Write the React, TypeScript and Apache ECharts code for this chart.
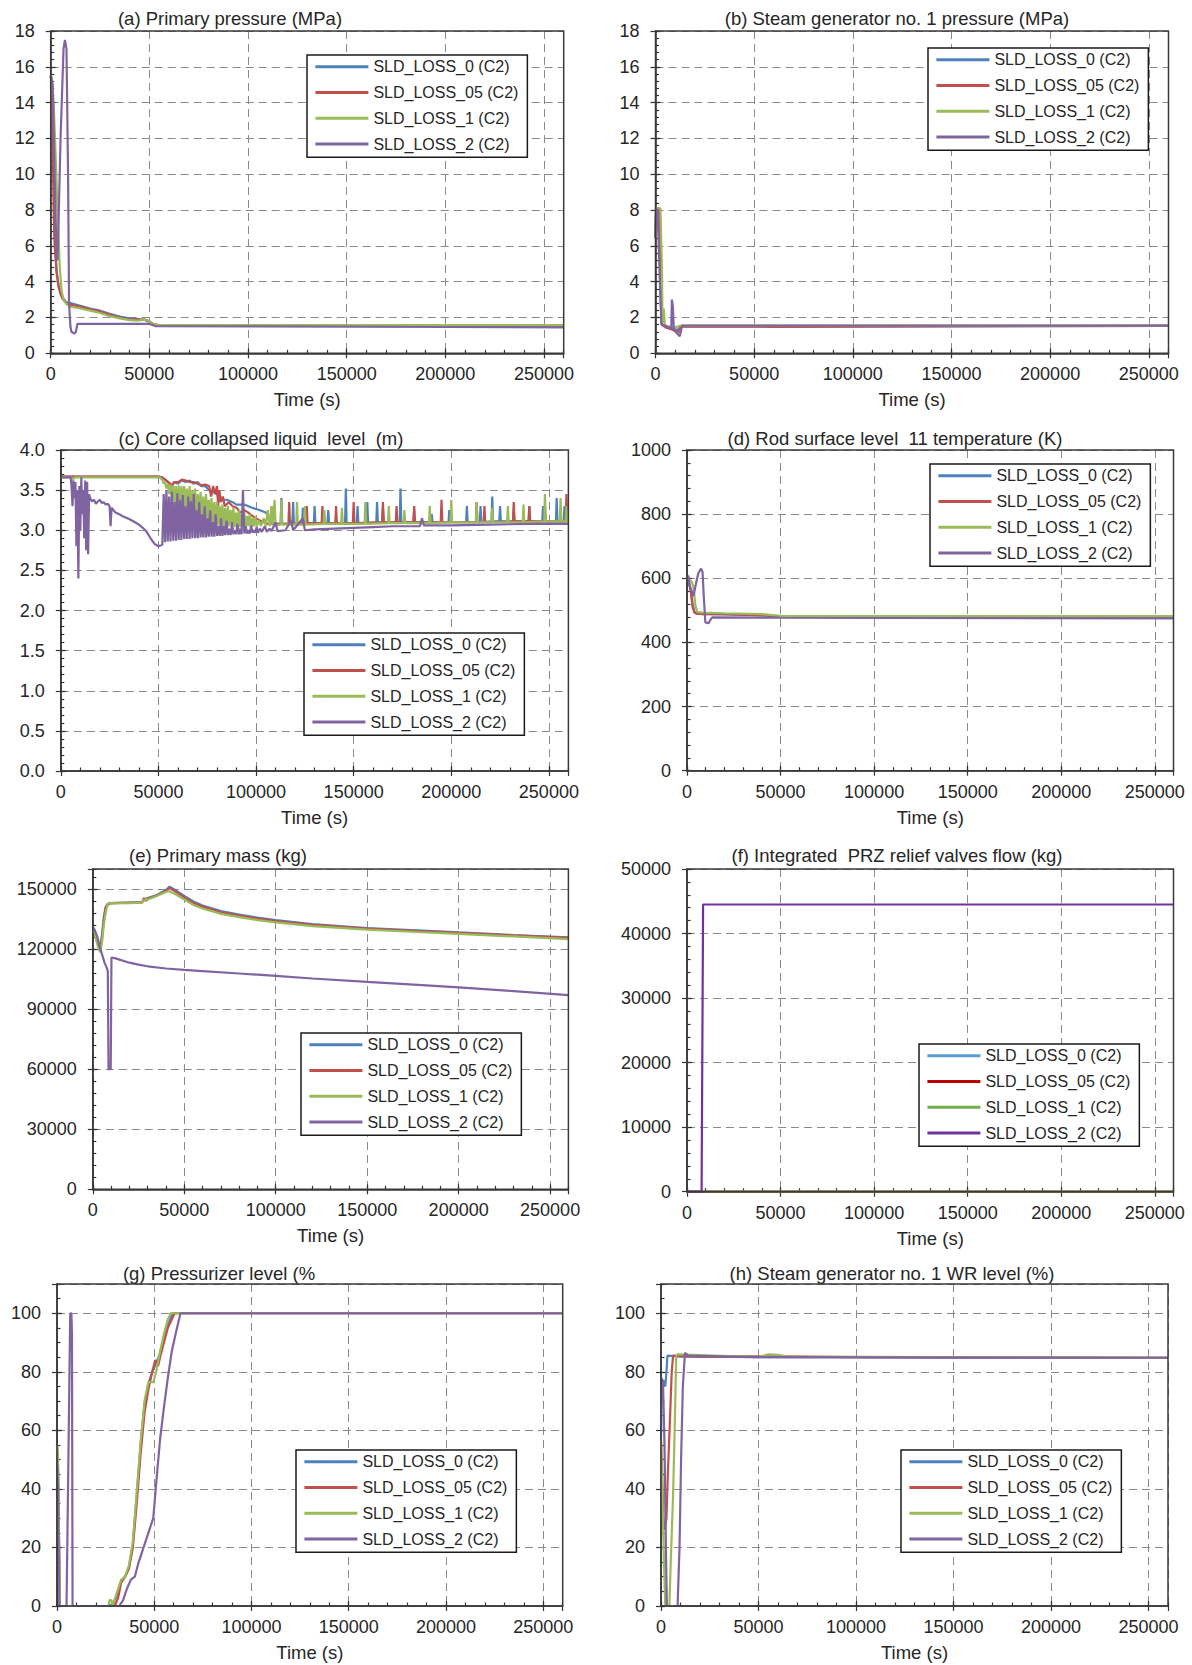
import React, { useEffect, useRef } from "react";
import * as echarts from "echarts";

type P = [number, number][];

const NAMES = ["SLD_LOSS_0 (C2)", "SLD_LOSS_05 (C2)", "SLD_LOSS_1 (C2)", "SLD_LOSS_2 (C2)"];
const COLORS = ["#4F81BD", "#C0504D", "#9BBB59", "#8064A2"];
const COLORS_F = ["#5B9BD5", "#C00000", "#70AD47", "#7030A0"];
const TIME_MAX = 260000;
const TIME_STEP = 50000;
const TIME_MINOR = 10000;

// (a) Primary pressure (MPa)
const A_0: P = [[0,15.5],[500,15.3],[1000,13.5],[1500,10],[2000,7],[2500,5.5],[3000,4.6],[4000,3.8],[5000,3.4],[6000,3.1],[8000,2.85],[10000,2.8],[15000,2.65],[20000,2.5],[25000,2.38],[30000,2.2],[35000,2.05],[40000,1.95],[45000,1.9],[48000,1.85],[50000,1.75],[52000,1.62],[55000,1.57],[80000,1.55],[150000,1.54],[260000,1.55]];
const A_05: P = [[0,15.5],[500,15],[1000,12],[1500,8],[2000,6],[3000,4.5],[4000,3.7],[5000,3.3],[6000,3.05],[8000,2.8],[10000,2.72],[15000,2.6],[20000,2.45],[25000,2.33],[30000,2.15],[35000,2.0],[40000,1.9],[45000,1.88],[48000,1.88],[50000,1.78],[52000,1.62],[55000,1.56],[80000,1.55],[260000,1.55]];
const A_1: P = [[0,15.5],[500,15.4],[1500,14],[2500,11],[3500,8],[4500,5],[5500,3.5],[6500,3.0],[8000,2.75],[10000,2.6],[15000,2.5],[20000,2.38],[25000,2.25],[30000,2.07],[35000,1.95],[40000,1.85],[44000,1.82],[47000,1.88],[49000,1.85],[51000,1.68],[53000,1.58],[80000,1.57],[260000,1.58]];
const A_2: P = [[0,15.5],[1000,15],[2000,10],[3000,5.3],[3500,5.2],[5000,12],[6500,17],[7200,17.5],[8000,17],[8800,10],[9300,2.8],[10000,1.5],[10500,1.2],[12000,1.1],[12800,1.2],[13500,1.64],[50000,1.64],[53000,1.52],[100000,1.5],[200000,1.47],[260000,1.45]];

// (b) Steam generator no. 1 pressure (MPa)
const B_0: P = [[0,6.5],[300,8.1],[1500,8.1],[2000,7],[2500,4],[3000,1.7],[4000,1.55],[6000,1.45],[9000,1.4],[11000,1.3],[13000,1.5],[20000,1.52],[60000,1.5],[260000,1.53]];
const B_05: P = [[0,6.5],[300,8.1],[1700,8.1],[2500,5],[3200,1.6],[5000,1.45],[8000,1.35],[10000,1.25],[12000,1.2],[13000,1.5],[60000,1.48],[260000,1.53]];
const B_1: P = [[0,6.5],[400,8.1],[2500,8.1],[3200,5],[3600,1.7],[4200,2.5],[4700,1.6],[6000,1.5],[10000,1.45],[13000,1.55],[260000,1.55]];
const B_2: P = [[0,6.4],[300,8.1],[1000,8.0],[1500,6.5],[2500,3],[3000,1.6],[6000,1.5],[8000,1.4],[8300,3.0],[8800,2.6],[9300,1.3],[11000,1.1],[12300,0.95],[13500,1.55],[260000,1.55]];

// (c) Core collapsed liquid level (m)
const C_0: P = [[0,3.67],[50000,3.67],[52000,3.66],[55000,3.6],[57000,3.55],[58000,3.6],[60000,3.58],[62000,3.62],[64000,3.6],[66000,3.62],[68000,3.58],[70000,3.6],[72000,3.55],[74000,3.55],[76000,3.5],[78000,3.48],[80000,3.45],[82000,3.38],[85000,3.38],[88000,3.35],[90000,3.32],[94000,3.32],[98000,3.28],[102000,3.25],[105000,3.22],[107000,3.15],[109000,3.08],
  [112600,3.08],[113000,3.4],[113400,3.08],[118600,3.08],[119000,3.35],[119400,3.08],[123600,3.08],[124000,3.28],[124400,3.08],
  [129600,3.09],[130000,3.3],[130400,3.09],[136600,3.09],[137000,3.25],[137400,3.09],[145600,3.09],[146000,3.52],[146400,3.09],
  [151600,3.09],[152000,3.3],[152400,3.09],[156600,3.09],[157000,3.35],[157400,3.09],[161600,3.1],[162000,3.35],[162400,3.1],
  [164600,3.1],[165000,3.28],[165400,3.1],[173600,3.1],[174000,3.52],[174400,3.1],[180600,3.1],[181000,3.25],[181400,3.1],
  [189600,3.1],[190000,3.2],[190400,3.1],[198600,3.1],[199000,3.25],[199400,3.1],[207600,3.1],[208000,3.3],[208400,3.1],
  [214600,3.1],[215000,3.3],[215400,3.1],[220600,3.11],[221000,3.42],[221400,3.11],[224600,3.11],[225000,3.3],[225400,3.11],
  [231600,3.11],[232000,3.25],[232400,3.11],[239600,3.11],[240000,3.3],[240400,3.11],[246600,3.11],[247000,3.3],[247400,3.11],
  [253600,3.11],[254000,3.4],[254400,3.11],[257600,3.11],[258000,3.3],[258400,3.11],[260000,3.11]];
const C_05: P = [[0,3.67],[50000,3.67],[53000,3.64],[55000,3.6],[57000,3.56],[58000,3.6],[60000,3.6],[62000,3.63],[64000,3.62],[66000,3.6],[68000,3.6],[70000,3.58],[72000,3.56],[74000,3.57],[76000,3.55],[77000,3.42],[78000,3.55],[79000,3.45],[80000,3.55],[80600,3.3],[81200,3.5],[82000,3.35],[83000,3.42],[84000,3.3],[86000,3.35],[88000,3.3],[90000,3.28],[92000,3.22],[94000,3.25],[96000,3.22],[98000,3.18],[100000,3.15],[102000,3.12],[104000,3.1],[106000,3.08],
  [107600,3.08],[108000,3.3],[108400,3.08],[116600,3.08],[117000,3.35],[117400,3.08],[125600,3.09],[126000,3.3],[126400,3.09],
  [133600,3.09],[134000,3.3],[134400,3.09],[140600,3.09],[141000,3.3],[141400,3.09],[149600,3.09],[150000,3.35],[150400,3.09],
  [164600,3.1],[165000,3.35],[165400,3.1],[171600,3.1],[172000,3.3],[172400,3.1],[180600,3.1],[181000,3.3],[181400,3.1],
  [194600,3.1],[195000,3.38],[195400,3.1],[212600,3.1],[213000,3.35],[213400,3.1],[216600,3.1],[217000,3.3],[217400,3.1],
  [231600,3.11],[232000,3.35],[232400,3.11],[239600,3.11],[240000,3.3],[240400,3.11],[247600,3.11],[248000,3.3],[248400,3.11],
  [258600,3.11],[259000,3.45],[259400,3.12],[260000,3.12]];
const C_1: P = [[0,3.66],[5000,3.66],[6000,3.62],[7000,3.66],[50000,3.66],[51000,3.65],[52000,3.63],
  [52700,3.58],[53400,3.6],[54100,3.52],[54800,3.58],[55500,3.45],[56200,3.57],[56900,3.4],[57600,3.56],[58300,3.3],[59000,3.55],[59700,3.25],
  [60400,3.56],[61100,3.2],[61800,3.55],[62500,3.3],[63200,3.55],[63900,3.15],[64600,3.52],[65300,3.25],[66000,3.55],[66700,3.15],
  [67400,3.5],[68100,3.2],[68800,3.52],[69500,3.12],[70200,3.45],[70900,3.2],[71600,3.48],[72300,3.1],[73000,3.42],[73700,3.15],
  [74400,3.45],[75100,3.1],[75800,3.38],[76500,3.12],[77200,3.4],[77900,3.08],[78600,3.35],[79300,3.1],[80000,3.35],[80700,3.06],
  [81400,3.3],[82100,3.08],[82800,3.32],[83500,3.05],[84200,3.28],[84900,3.07],[85600,3.3],[86300,3.05],[87000,3.25],[87700,3.06],
  [88400,3.28],[89100,3.04],[89800,3.22],[90500,3.05],[91200,3.25],[91900,3.04],[92600,3.2],[93300,3.05],[94000,3.22],[94700,3.04],
  [95400,3.18],[96100,3.05],[96800,3.2],[97500,3.04],[98200,3.15],[98900,3.05],[99600,3.18],[100300,3.05],[101500,3.12],[102500,3.05],
  [104000,3.15],[105000,3.05],[106000,3.25],[107000,3.05],[108000,3.3],[108500,3.06],[109500,3.38],[110000,3.06],
  [112600,3.07],[113000,3.38],[113400,3.07],[120600,3.07],[121000,3.35],[121400,3.07],[124600,3.07],[125000,3.3],[125400,3.07],
  [134600,3.08],[135000,3.25],[135400,3.08],[143600,3.08],[144000,3.28],[144400,3.08],[155600,3.08],[156000,3.35],[156400,3.08],
  [167600,3.09],[168000,3.3],[168400,3.09],[175600,3.09],[176000,3.25],[176400,3.09],[188600,3.09],[189000,3.3],[189400,3.09],
  [199600,3.1],[200000,3.38],[200400,3.1],[212600,3.1],[213000,3.35],[213400,3.1],[220600,3.1],[221000,3.28],[221400,3.1],
  [228600,3.1],[229000,3.3],[229400,3.1],[236600,3.1],[237000,3.32],[237400,3.1],[247600,3.11],[248000,3.45],[248400,3.11],
  [255600,3.11],[256000,3.4],[256400,3.11],[258600,3.11],[259000,3.3],[259400,3.11],[260000,3.11]];
const C_2: P = [[0,3.66],[5000,3.66],[5500,3.55],[6000,3.3],[6500,3.62],[7000,3.4],[7500,3.6],[8000,2.8],[8500,3.5],[9000,2.4],[9500,3.55],[10000,3.0],[10500,3.66],[11000,3.2],[11500,3.5],[12000,2.9],[12500,3.62],[13000,2.75],[13500,3.6],[14000,2.7],[14500,3.45],[15000,3.4],
  [16000,3.36],[17000,3.38],[18000,3.33],[19000,3.36],[20000,3.38],[21000,3.34],[22000,3.35],[23000,3.32],[24000,3.33],[25000,3.3],[25500,3.05],[26000,3.28],[27000,3.25],[28000,3.22],[30000,3.2],[32000,3.17],[35000,3.14],[38000,3.1],[40000,3.07],[42000,3.03],[44000,2.98],[46000,2.9],[48000,2.83],[50000,2.8],[51000,2.81],[52000,2.82],
  [52700,3.45],[53400,2.85],[54100,3.5],[54800,2.86],[55500,3.42],[56200,2.86],[56900,3.48],[57600,2.87],[58300,3.35],[59000,2.87],[59700,3.46],
  [60400,2.88],[61100,3.38],[61800,2.88],[62500,3.44],[63200,2.89],[63900,3.3],[64600,2.89],[65300,3.42],[66000,2.89],[66700,3.36],
  [67400,2.9],[68100,3.45],[68800,2.9],[69500,3.25],[70200,2.9],[70900,3.35],[71600,2.91],[72300,3.2],[73000,2.91],[73700,3.3],
  [74400,2.91],[75100,3.15],[75800,2.92],[76500,3.25],[77200,2.92],[77900,3.1],[78600,2.92],[79300,3.2],[80000,2.93],[80700,3.05],
  [81400,2.93],[82100,3.15],[82800,2.93],[83500,3.05],[84200,2.94],[84900,3.12],[85600,2.94],[86300,3.02],[87000,2.94],[87700,3.1],
  [88400,2.95],[89100,3.0],[89800,2.95],[90500,3.08],[91200,2.95],[91900,3.02],[92600,2.95],[93300,3.5],[94000,2.96],[94700,3.05],
  [95400,2.96],[96100,3.0],[96800,2.96],[97500,3.06],[98200,2.97],[98900,3.0],[99600,2.97],[100300,3.04],[101000,2.97],[102000,3.02],
  [103000,2.98],[104500,3.05],[105500,2.98],[107000,3.02],[108000,2.99],[110000,3.1],[111000,2.99],[115000,3.0],[118000,3.12],[119000,3.0],
  [124000,3.15],[125000,3.0],[130000,3.01],[140000,3.02],[150000,3.03],[160000,3.04],[170000,3.05],[184000,3.05],[185000,3.15],[186000,3.06],
  [200000,3.06],[220000,3.07],[240000,3.08],[260000,3.08]];

// (d) Rod surface level 11 temperature (K)
const D_0: P = [[0,612],[1000,585],[2000,565],[3000,520],[4000,495],[5000,490],[8000,488],[20000,487],[40000,484],[50000,480],[100000,478],[260000,477]];
const D_05: P = [[0,600],[1000,588],[2000,560],[3000,510],[4000,493],[6000,489],[20000,488],[40000,485],[50000,481],[100000,480],[260000,480]];
const D_1: P = [[0,600],[1500,592],[2500,590],[3500,570],[4500,515],[5500,495],[8000,493],[20000,491],[40000,488],[50000,483],[100000,482],[260000,482]];
const D_2: P = [[0,610],[800,605],[1500,575],[2500,560],[3500,545],[4500,575],[6000,615],[7500,630],[8300,620],[9000,540],[9800,462],[11500,460],[12500,470],[13500,478],[50000,477],[260000,475]];

// (e) Primary mass (kg)
const E_0: P = [[0,131000],[1000,129000],[2000,126000],[3000,123000],[4000,121500],[5000,127000],[6000,136000],[7000,141000],[8000,142500],[10000,143000],[20000,143200],[27000,143500],[28000,144500],[30000,145500],[35000,147000],[38000,148500],[40000,149500],[42000,151200],[45000,149500],[50000,146500],[55000,143800],[60000,141800],[70000,139000],[80000,137200],[90000,135700],[100000,134500],[120000,132500],[150000,130500],[180000,129200],[200000,128300],[230000,127000],[260000,125800]];
const E_05: P = [[0,131000],[1000,128500],[2000,125000],[3000,122000],[4000,121000],[5000,125000],[6000,134000],[7000,140500],[8000,142000],[10000,143000],[20000,143200],[27000,143300],[28000,145500],[29000,144000],[30000,145000],[35000,146800],[40000,149000],[42000,150500],[45000,148800],[50000,145800],[55000,143000],[60000,141200],[70000,138400],[80000,136700],[90000,135200],[100000,134000],[120000,132100],[150000,130200],[180000,128900],[200000,128100],[230000,126800],[260000,125600]];
const E_1: P = [[0,131000],[1000,128000],[2000,124000],[3000,120500],[4000,118500],[5000,123000],[6000,132000],[7000,138000],[8000,142000],[9000,143200],[10000,142800],[20000,143000],[27000,143200],[28000,144500],[30000,144800],[35000,146500],[40000,148500],[41500,149000],[45000,147500],[50000,144800],[55000,142000],[60000,140300],[70000,137600],[80000,136000],[90000,134500],[100000,133300],[120000,131500],[150000,129700],[180000,128400],[200000,127600],[230000,126300],[260000,125000]];
const E_2: P = [[0,131000],[800,130000],[1500,128500],[2500,126000],[3500,122000],[4500,119000],[5500,116000],[6500,113000],[7500,111000],[8200,109000],[8600,60000],[9800,60000],[10200,115800],[12000,115500],[15000,114600],[20000,113200],[25000,112200],[30000,111400],[40000,110300],[50000,109600],[60000,109000],[80000,107800],[100000,106600],[120000,105300],[150000,103600],[180000,102000],[200000,100900],[230000,99000],[260000,97000]];

// (f) Integrated PRZ relief valves flow (kg)
const F_0: P = [[0,0],[260000,0]];
const F_05: P = [[0,0],[260000,0]];
const F_1: P = [[0,0],[260000,0]];
const F_2: P = [[0,0],[7800,0],[8600,44500],[260000,44500]];

// (g) Pressurizer level (%)
const G_0: P = [[0,55],[500,48],[1500,0],[27000,0],[29000,1],[31000,4],[33000,8.5],[35000,10],[37000,13],[39000,21],[41000,38],[43000,55],[45000,69],[47000,76],[49000,80],[51000,83],[53000,86.5],[55000,91],[57000,96],[59500,100],[260000,100]];
const G_05: P = [[0,55],[500,47],[1500,0],[28000,0],[30000,0.5],[31500,3],[33000,8],[35000,10],[37000,13],[39000,20],[41000,35],[43000,52],[45000,66],[47000,74],[49000,80],[50500,84],[52000,82],[53000,85],[55000,90],[57000,95],[60500,100],[260000,100]];
const G_1: P = [[0,55],[500,50],[1500,0],[26500,0],[27000,2],[28000,2],[28500,0],[29000,1],[31000,5],[33000,9],[35000,10],[37000,14],[39000,22],[41000,39],[43000,56],[45000,70],[47000,76.5],[49500,76.5],[51000,80],[53000,87],[55000,93],[57000,98],[58500,100],[260000,100]];
const G_2: P = [[0,50],[500,40],[1200,0],[4900,0],[6800,100],[7400,100],[7700,93],[8000,0],[32000,0],[34000,2],[36000,6],[38000,9],[40000,10],[42000,15],[44000,19],[46000,23],[48000,27],[49500,30],[51000,42],[53000,57],[55000,68],[57000,78],[59000,87],[61000,93],[63500,100],[260000,100]];

// (h) Steam generator no. 1 WR level (%)
const H_0: P = [[0,57],[300,70],[800,76],[1500,77],[2200,75],[2800,80],[3300,85.5],[10000,85.2],[50000,85],[100000,85],[150000,84.8],[260000,84.8]];
const H_05: P = [[0,57],[600,45],[1200,30],[2000,26],[2800,30],[3500,45],[4500,62],[5500,80],[6200,85.5],[20000,85.2],[60000,85.3],[100000,85],[260000,84.8]];
const H_1: P = [[0,57],[600,40],[1500,15],[2200,0],[4300,0],[5000,15],[6200,38],[7000,60],[7800,85.5],[8500,86],[50000,85],[55000,86],[60000,85.8],[65000,85.2],[260000,84.8]];
const H_2: P = [[0,78],[1000,77],[1800,55],[2500,20],[3000,0],[8500,0],[9500,20],[10300,50],[11200,75],[12300,86.5],[14000,85.5],[30000,85.3],[50000,85],[260000,84.8]];

const FONT = "'Liberation Sans', Arial, Helvetica, sans-serif";
const TXT = "#262626";
const AXC = "#333";

interface Cfg {
  x: number; y: number; h: number;
  grid: { left: number; top: number; width: number; height: number };
  yMax: number; yStep: number; yMinor: number; dec?: number;
  title: string; tx: number; ty: number;
  lg: { left: number; top: number };
  data: P[]; colors: string[];
}

const PANELS: Cfg[] = [
  { x: 0, y: 0, h: 420, grid: { left: 50.7, top: 31, width: 513, height: 322.3 }, yMax: 18, yStep: 2, yMinor: 0.4,
    title: "(a) Primary pressure (MPa)", tx: 230, ty: 18, lg: { left: 307, top: 55 }, data: [A_0, A_05, A_1, A_2], colors: COLORS },
  { x: 596, y: 0, h: 420, grid: { left: 59.5, top: 31, width: 513, height: 322.3 }, yMax: 18, yStep: 2, yMinor: 0.4,
    title: "(b) Steam generator no. 1 pressure (MPa)", tx: 301, ty: 18, lg: { left: 332, top: 48 }, data: [B_0, B_05, B_1, B_2], colors: COLORS },
  { x: 0, y: 420, h: 420, grid: { left: 60.8, top: 30, width: 507.6, height: 321 }, yMax: 4, yStep: 0.5, yMinor: 0.1, dec: 1,
    title: "(c) Core collapsed liquid  level  (m)", tx: 261, ty: 18, lg: { left: 304, top: 213 }, data: [C_0, C_05, C_1, C_2], colors: COLORS },
  { x: 596, y: 420, h: 420, grid: { left: 91, top: 30, width: 486.5, height: 320.7 }, yMax: 1000, yStep: 200, yMinor: 40,
    title: "(d) Rod surface level  11 temperature (K)", tx: 299, ty: 18, lg: { left: 334, top: 44 }, data: [D_0, D_05, D_1, D_2], colors: COLORS },
  { x: 0, y: 840, h: 420, grid: { left: 92.8, top: 29, width: 475.6, height: 320.3 }, yMax: 160000, yStep: 30000, yMinor: 6000,
    title: "(e) Primary mass (kg)", tx: 218, ty: 15, lg: { left: 301, top: 193 }, data: [E_0, E_05, E_1, E_2], colors: COLORS },
  { x: 596, y: 840, h: 420, grid: { left: 91, top: 29, width: 486.5, height: 322.7 }, yMax: 50000, yStep: 10000, yMinor: 2000,
    title: "(f) Integrated  PRZ relief valves flow (kg)", tx: 301, ty: 15, lg: { left: 323, top: 204 }, data: [F_0, F_05, F_1, F_2], colors: COLORS_F },
  { x: 0, y: 1260, h: 405, grid: { left: 57, top: 24, width: 505.7, height: 322 }, yMax: 110, yStep: 20, yMinor: 5,
    title: "(g) Pressurizer level (%", tx: 219, ty: 13, lg: { left: 296, top: 190 }, data: [G_0, G_05, G_1, G_2], colors: COLORS },
  { x: 596, y: 1260, h: 405, grid: { left: 65, top: 24, width: 507, height: 322 }, yMax: 110, yStep: 20, yMinor: 5,
    title: "(h) Steam generator no. 1 WR level (%)", tx: 296, ty: 13, lg: { left: 305, top: 190 }, data: [H_0, H_05, H_1, H_2], colors: COLORS },
];

function buildOption(c: Cfg) {
  const g = c.grid;
  const tickLine = { color: AXC, width: 1.2 };
  const xBase = { type: "value", min: 0, max: TIME_MAX, position: "bottom", gridIndex: 0 };
  const yBase = { type: "value", min: 0, max: c.yMax, position: "left", gridIndex: 0 };
  const hidden = { axisLine: { show: false }, axisLabel: { show: false }, splitLine: { show: false } };
  return {
    animation: false,
    backgroundColor: "#ffffff",
    textStyle: { fontFamily: FONT },
    grid: { left: g.left, top: g.top, width: g.width, height: g.height, containLabel: false, outerBoundsMode: "none" },
    xAxis: [
      {
        ...xBase, interval: TIME_STEP,
        name: "Time (s)", nameLocation: "middle", nameGap: 37,
        nameTextStyle: { fontSize: 18.5, color: TXT, fontFamily: FONT },
        axisLine: { show: true, onZero: false, lineStyle: { color: AXC, width: 1.5 } },
        axisTick: { show: true, inside: true, length: 5, lineStyle: tickLine },
        axisLabel: { show: true, showMaxLabel: false, margin: 12, fontSize: 18, color: TXT, fontFamily: FONT, formatter: (v: number) => String(v) },
        splitLine: { show: true, lineStyle: { type: [8, 5], color: "#8a8a8a", width: 1 } },
      },
      { ...xBase, interval: TIME_MINOR, ...hidden, axisTick: { show: true, inside: true, length: 3.5, lineStyle: tickLine } },
      { ...xBase, interval: TIME_STEP, ...hidden, axisTick: { show: true, inside: false, length: 5, lineStyle: tickLine } },
    ],
    yAxis: [
      {
        ...yBase, interval: c.yStep,
        axisLine: { show: true, onZero: false, lineStyle: { color: AXC, width: 1.5 } },
        axisTick: { show: true, inside: true, length: 5, lineStyle: tickLine },
        axisLabel: {
          show: true, showMaxLabel: c.yMax % c.yStep === 0, margin: 16, fontSize: 18, color: TXT, fontFamily: FONT,
          formatter: (v: number) => (c.dec ? v.toFixed(c.dec) : String(v)),
        },
        splitLine: { show: true, lineStyle: { type: [8, 5], color: "#8a8a8a", width: 1 } },
      },
      { ...yBase, interval: c.yMinor, ...hidden, axisTick: { show: true, inside: true, length: 3.5, lineStyle: tickLine } },
      { ...yBase, interval: c.yStep, ...hidden, axisTick: { show: true, inside: false, length: 5, lineStyle: tickLine } },
    ],
    legend: {
      show: true, orient: "vertical", left: c.lg.left, top: c.lg.top,
      icon: "rect", itemWidth: 53, itemHeight: 3, itemGap: 9.8,
      padding: [3.7, 9, 5.2, 8.4],
      borderColor: "#1a1a1a", borderWidth: 1.5, backgroundColor: "#ffffff",
      textStyle: { fontSize: 16, color: TXT, fontFamily: FONT },
      data: NAMES, selectedMode: false, z: 20,
    },
    graphic: [
      {
        type: "text", x: c.tx, y: c.ty, silent: true,
        style: { text: c.title, fill: TXT, fontSize: 18.5, fontFamily: FONT, align: "center", verticalAlign: "middle" },
      },
      {
        type: "rect", silent: true, z: 10,
        shape: { x: g.left, y: g.top, width: g.width, height: g.height },
        style: { fill: "none", stroke: "#3a3a3a", lineWidth: 1.5 },
      },
    ],
    series: c.data.map((d, i) => ({
      type: "line", name: NAMES[i], data: d, xAxisIndex: 0, yAxisIndex: 0,
      showSymbol: false, symbol: "none", silent: true, clip: true, z: 2 + i,
      color: c.colors[i],
      itemStyle: { color: c.colors[i] },
      lineStyle: { width: 2.2, color: c.colors[i] },
    })),
  };
}

function Panel({ cfg }: { cfg: Cfg }) {
  const ref = useRef<HTMLDivElement>(null);
  useEffect(() => {
    if (!ref.current) return;
    const chart = echarts.init(ref.current, null, { renderer: "svg" });
    chart.setOption(buildOption(cfg) as any);
    return () => chart.dispose();
  }, [cfg]);
  return <div ref={ref} style={{ position: "absolute", left: cfg.x, top: cfg.y, width: 596, height: cfg.h }} />;
}

export default function App() {
  return (
    <div style={{ position: "absolute", left: 0, top: 0, width: 1192, height: 1665, background: "#ffffff", overflow: "hidden" }}>
      {PANELS.map((p, i) => (
        <Panel key={i} cfg={p} />
      ))}
    </div>
  );
}
